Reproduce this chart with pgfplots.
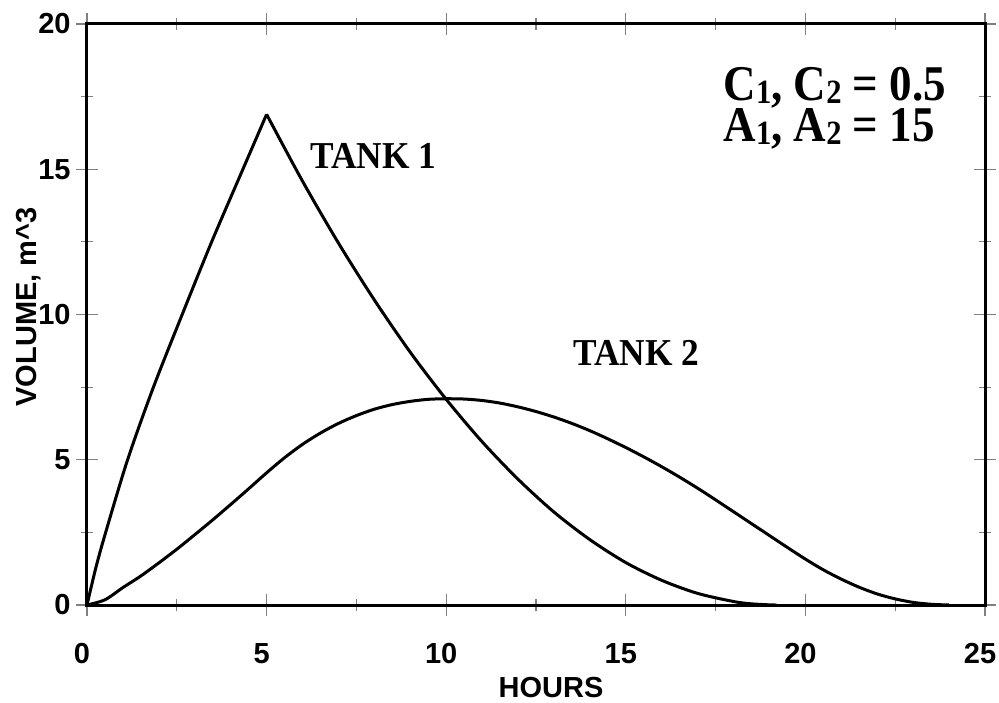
\documentclass[border=0pt]{standalone}
\usepackage{fontspec}
\setmainfont{Liberation Sans}
\newfontfamily\serifb{Liberation Serif}
\usepackage{graphicx}
\usepackage{pgfplots}
\pgfplotsset{compat=1.18}
\newcommand{\sub}[1]{\raisebox{-1.5pt}{\fontsize{17}{17}\selectfont #1}}
\begin{document}
\begin{tikzpicture}
\useasboundingbox (0,0) rectangle (499.5pt,351pt);
\begin{axis}[
  at={(43.5pt,48.5pt)}, anchor=south west,
  width=449pt, height=290.5pt, scale only axis,
  xmin=0, xmax=25, ymin=0, ymax=20,
  xtick={0,5,10,15,20,25}, ytick={0,5,10,15,20},
  minor tick num=1,
  tick align=center,
  major tick length=11pt, minor tick length=6pt,
  every tick/.style={draw=gray, line width=0.6pt},
  axis line style={line width=1.5pt, black},
  /pgf/number format/assume math mode=true,
  ticklabel style={font=\fontsize{14.5}{17}\selectfont\bfseries, inner sep=0pt},
  xticklabel style={anchor=base, yshift=-23.5pt, xshift=-2.5pt},
  yticklabel style={anchor=east, xshift=-2.5pt},
  clip=false,
]
% Tank 1 filling
\addplot[black, line width=1.5pt, smooth, tension=0.5] coordinates {
 (0,0) (0.25,1.3) (0.52,2.5) (1.13,5) (1.85,7.5) (2.65,10) (3.47,12.5) (4.34,15) (5,16.89)
};
% Tank 1 draining
\addplot[black, line width=1.5pt, smooth, tension=0.5] coordinates {
 (5,16.89) (6,14.59) (7,12.46) (8,10.50) (9,8.70) (10,7.08) (11,5.62) (12,4.33)
 (13,3.20) (14,2.25) (15,1.46) (16,0.85) (17,0.40) (18,0.12) (18.5,0.04) (19,0.005) (19.2,0)
};
\addplot[black, line width=1.5pt] coordinates {(19.2,0) (25,0)};
% Tank 2
\addplot[black, line width=1.5pt, smooth, tension=0.5] coordinates {
 (0,0) (0.5,0.18) (1,0.6) (1.5,1.0) (2,1.45) (2.5,1.92) (3,2.42) (3.5,2.93) (4,3.46)
 (4.5,4.0) (5,4.55) (5.5,5.07) (6,5.53) (6.5,5.92) (7,6.25) (7.5,6.52) (8,6.74)
 (8.5,6.9) (9,7.01) (9.5,7.08) (10,7.10) (10.5,7.09) (11,7.04) (11.5,6.95) (12,6.82)
 (12.5,6.66) (13,6.47) (13.5,6.25) (14,6.0) (14.5,5.72) (15,5.42) (15.5,5.10) (16,4.76)
 (16.5,4.40) (17,4.02) (17.5,3.62) (18,3.21) (18.5,2.80) (19,2.39) (19.5,1.98) (20,1.58)
 (20.5,1.21) (21,0.89) (21.5,0.61) (22,0.38) (22.5,0.21) (23,0.09) (23.5,0.025) (24,0)
};
\addplot[black, line width=1.5pt] coordinates {(24,0) (25,0)};
\node[anchor=base, inner sep=0pt, font=\fontsize{14.5}{17}\selectfont\bfseries] at (axis cs:12.92,-3.20) {HOURS};
\node[rotate=90, anchor=base, inner sep=0pt, font=\fontsize{14.5}{17}\selectfont\bfseries] at (axis cs:-1.392,10.26) {VOLUME, m\^{}3};
\node[anchor=base west, inner sep=0pt, font=\serifb\bfseries\fontsize{19}{19}\selectfont] at (axis cs:6.21,15.04) {\scalebox{0.93}[1]{TANK 1}};
\node[anchor=base west, inner sep=0pt, font=\serifb\bfseries\fontsize{19}{19}\selectfont] at (axis cs:13.53,8.26) {\scalebox{0.93}[1]{TANK 2}};
\node[anchor=base west, inner sep=0pt, font=\serifb\bfseries\fontsize{25}{25}\selectfont] at (axis cs:17.71,17.38) {\scalebox{0.9}[1]{C\sub{1}, C\sub{2} = 0.5}};
\node[anchor=base west, inner sep=0pt, font=\serifb\bfseries\fontsize{25}{25}\selectfont] at (axis cs:17.71,15.94) {\scalebox{0.9}[1]{A\sub{1}, A\sub{2} = 15}};
\end{axis}
\end{tikzpicture}
\end{document}
